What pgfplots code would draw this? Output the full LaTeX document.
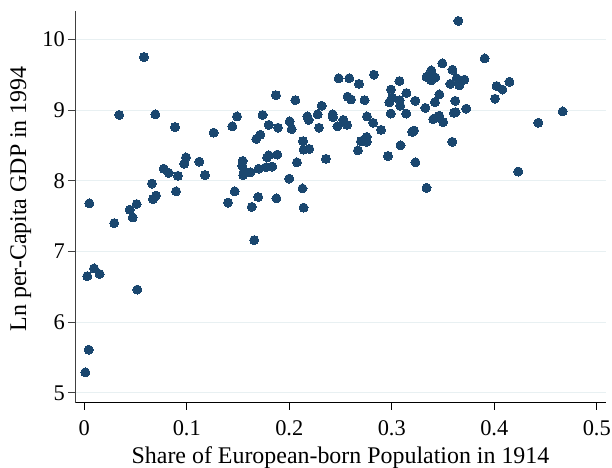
\documentclass[border=0pt]{standalone}
\usepackage{fontspec}
\setmainfont{Liberation Serif}
\usepackage{pgfplots}
\usepackage{pgfplotstable}
\pgfplotsset{compat=1.18}
\definecolor{navy}{RGB}{26,71,111}
\definecolor{gridc}{RGB}{232,240,242}
\pgfplotstableread{
x y
0.0049 7.68
0.0341 8.93
0.0582 9.75
0.0693 8.94
0.0885 8.76
0.1262 8.68
0.1444 8.77
0.1490 8.91
0.1740 8.93
0.1870 9.21
0.2059 9.14
0.1799 8.79
0.1890 8.75
0.1678 8.59
0.1717 8.65
0.2004 8.84
0.2023 8.73
0.2134 8.56
0.2140 8.44
0.2195 8.45
0.2075 8.26
0.2176 8.91
0.2189 8.86
0.2277 8.94
0.2316 9.06
0.2290 8.75
0.2423 8.94
0.2426 8.90
0.2470 8.77
0.2482 9.45
0.2358 8.31
0.0992 8.33
0.0976 8.24
0.1122 8.27
0.1178 8.08
0.0775 8.17
0.0823 8.11
0.0914 8.07
0.0660 7.96
0.0895 7.85
0.0670 7.74
0.0700 7.79
0.0511 7.67
0.0443 7.59
0.0472 7.48
0.1545 8.28
0.1541 8.21
0.1558 8.13
0.1551 8.08
0.1620 8.12
0.1700 8.17
0.1773 8.19
0.1833 8.20
0.1784 8.33
0.1799 8.36
0.1883 8.37
0.1999 8.03
0.1402 7.69
0.1468 7.85
0.1634 7.63
0.1697 7.77
0.1875 7.75
0.2129 7.89
0.2139 7.62
0.0292 7.40
0.1658 7.16
0.0029 6.65
0.0095 6.76
0.0150 6.68
0.0517 6.46
0.0043 5.61
0.0010 5.29
0.3649 10.26
0.3906 9.73
0.2585 9.45
0.2680 9.37
0.2826 9.50
0.2568 9.19
0.2602 9.15
0.2734 9.14
0.2527 8.86
0.2563 8.79
0.2758 8.91
0.2817 8.82
0.2895 8.72
0.2670 8.43
0.2700 8.56
0.2755 8.62
0.2755 8.55
0.2963 8.35
0.3085 8.50
0.3231 8.26
0.3339 7.90
0.4234 8.13
0.4429 8.82
0.4667 8.98
0.2992 9.29
0.3075 9.41
0.3143 9.24
0.2976 9.11
0.3002 9.17
0.3077 9.14
0.3082 9.06
0.3229 9.13
0.2990 8.95
0.3141 8.95
0.3327 9.03
0.3199 8.69
0.3217 8.71
0.3339 9.47
0.3385 9.56
0.3385 9.42
0.3426 9.46
0.3493 9.66
0.3592 9.57
0.3571 9.37
0.3633 9.45
0.3659 9.35
0.3709 9.43
0.3421 9.11
0.3465 9.22
0.3619 9.13
0.3726 9.02
0.3607 8.96
0.3622 8.97
0.3404 8.87
0.3431 8.89
0.3462 8.92
0.3501 8.83
0.3590 8.55
0.4007 9.16
0.4023 9.34
0.4080 9.29
0.4148 9.40
}\scatterdata
\begin{document}
\begin{tikzpicture}
\begin{axis}[
  at={(0,0)}, anchor=south west,
  scale only axis, width=531bp, height=392bp,
  xmin=-0.00907, xmax=0.509, ymin=4.86, ymax=10.405,
  axis x line*=bottom, axis y line*=left,
  x axis line style={-, black, line width=1bp},
  y axis line style={-, black!75, line width=0.8bp},
  tick align=outside, major tick length=7bp,
  xtick={0,0.1,0.2,0.3,0.4,0.5},
  xticklabels={0,0.1,0.2,0.3,0.4,0.5},
  ytick={5,6,7,8,9,10},
  yticklabels={5,6,7,8,9,10},
  x tick style={black, line width=0.8bp},
  y tick style={black!75, line width=0.8bp},
  ymajorgrids, grid style={gridc, line width=1bp},
  xticklabel style={font=\fontsize{22.5}{26}\selectfont, inner sep=0pt, anchor=north, yshift=-11bp},
  yticklabel style={font=\fontsize{22.5}{26}\selectfont, inner sep=0pt, anchor=east, xshift=-3bp},
  xlabel={Share of European-born Population in 1914},
  ylabel={Ln per-Capita GDP in 1994},
  x label style={font=\fontsize{24}{28}\selectfont, inner sep=0pt, at={(axis description cs:0.5,0)}, anchor=base, yshift=-60.6bp},
  y label style={font=\fontsize{24}{28}\selectfont, inner sep=0pt, at={(axis description cs:-0.1224,0.52)}, anchor=north},
  clip=false,
]
\addplot[only marks, mark=*, mark size=4.5bp, mark options={fill=navy, draw=navy, line width=0pt}] table[x=x, y=y] {\scatterdata};
\end{axis}
\pgfresetboundingbox
\path (-75bp,-65.3bp) rectangle (537bp,402.7bp);
\end{tikzpicture}
\end{document}
